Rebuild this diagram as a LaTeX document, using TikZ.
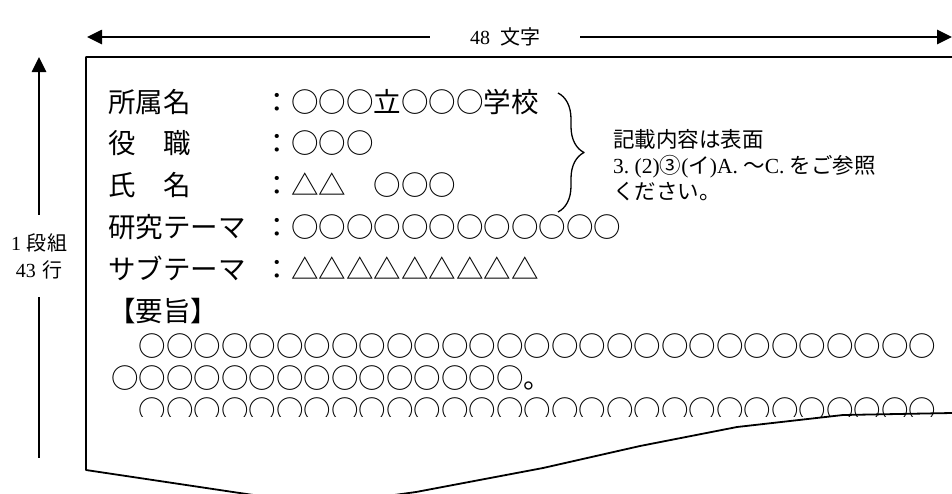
\documentclass[tikz,border=0pt]{standalone}
\usepackage{fontspec}
\setmainfont{Liberation Serif}
\newfontfamily\jp{Noto Sans CJK JP}
\usetikzlibrary{arrows.meta,decorations.pathreplacing}
\tikzset{
	arr/.style={line width=2.6pt,-{Triangle[length=15pt,width=14pt]}},
	body/.style={anchor=west,inner sep=0pt,font=\jp\fontsize{27.5}{30}\selectfont},
	note/.style={anchor=west,inner sep=0pt,align=left,font=\jp\fontsize{21.5}{26}\selectfont},
	dim/.style={inner sep=0pt,align=center,font=\fontsize{20}{27}\selectfont}
}
\begin{document}
\begin{tikzpicture}[x=1pt,y=-1pt,line join=round]
		%==Khung hinh
		\useasboundingbox (0,0) rectangle (952,493);
		\clip (0,0) rectangle (952,493);
		%==Mui ten 48 chu
		\node[dim,minimum width=150pt] (wlab) at (505,37) {48\hspace{0.5em}{\jp 文字}};
		\coordinate (wL) at (87,37);
		\coordinate (wR) at (952,37);
		\draw[arr] (wlab.west)--(wL);
		\draw[arr] (wlab.east)--(wR);
		%==Mui ten 43 dong
		\node[dim,minimum height=82pt] (hlab) at (39,256) {1\hspace{0.3em}{\jp 段組}\\43\hspace{0.3em}{\jp 行}};
		\coordinate (hT) at (39,57);
		\coordinate (hB) at (39,458);
		\draw[arr] (hlab.north)--(hT);
		\draw[line width=2.6pt] (hlab.south)--(hB);
		%==Trang giay
		\draw[line width=1.8pt] (952,57)coordinate(P1)--(86,57)coordinate(P2)--(86,470)coordinate(P3)
		--(233,492)--(322,505)--(416,492)--(543,468)--(640,446)--(737,427)--(843,415)--(952,413);
		%==Noi dung
		\node[body] (lab1) at (108,102) {所属名};
		\node[body] (val1) at (263.5,102) {：○○○立○○○学校};
		\node[body] (lab2) at (108,143) {役　職};
		\node[body] (val2) at (263.5,143) {：○○○};
		\node[body] (lab3) at (108,185) {氏　名};
		\node[body] (val3) at (263.5,185) {：△△　○○○};
		\node[body] (lab4) at (108,227) {研究テーマ};
		\node[body] (val4) at (263.5,227) {：○○○○○○○○○○○○};
		\node[body] (lab5) at (108,268) {サブテーマ};
		\node[body] (val5) at (263.5,268) {：△△△△△△△△△};
		\node[body] (yoshi) at (108,311) {【要旨】};
		\node[body] (row1) at (111,346) {　○○○○○○○○○○○○○○○○○○○○○○○○○○○○○};
		\node[body] (row2) at (111,378) {○○○○○○○○○○○○○○○。};
		\begin{scope}
		\clip (86,380) rectangle (952,416);
		\node[body] (row3) at (111,410) {　○○○○○○○○○○○○○○○○○○○○○○○○○○○○○};
		\end{scope}
		%==Ngoac va ghi chu
		\coordinate (bT) at (558,93);
		\coordinate (bB) at (558,212);
		\draw[line width=1.3pt,decorate,decoration={brace,amplitude=26pt}] (bT)--(bB);
		\node[note] (note) at (613,165) {記載内容は表面\\{\rmfamily 3.\ (2)}③{\rmfamily (}イ{\rmfamily )A.\ }～{\rmfamily C.\ }をご参照\\ください。};
\end{tikzpicture}
\end{document}
